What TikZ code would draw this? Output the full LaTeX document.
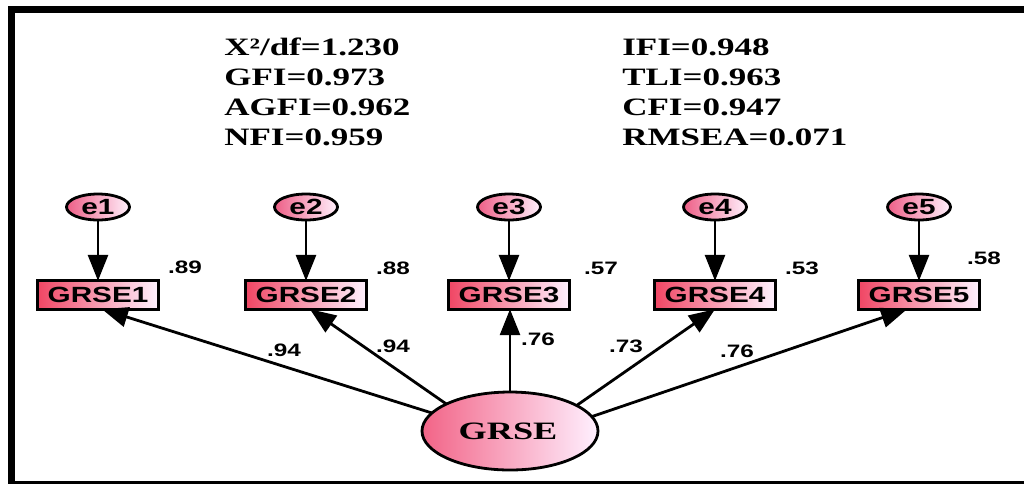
\documentclass[tikz,border=0pt]{standalone}
\usepackage{fontspec}
\setmainfont{Liberation Serif}
\newfontfamily\arialfont{Liberation Sans}
\usetikzlibrary{shapes.geometric,arrows.meta,calc}
\definecolor{boxL}{RGB}{240,70,100}
\definecolor{boxR}{RGB}{255,242,255}
\definecolor{errL}{RGB}{238,95,135}
\definecolor{errR}{RGB}{255,240,252}
\definecolor{latL}{RGB}{242,100,135}
\definecolor{latR}{RGB}{255,240,255}
\tikzset{
  wide/.style={xscale=1.35},
  fitline/.style={xscale=1.4, anchor=west, font=\fontsize{25}{30}\selectfont\bfseries, align=left, inner sep=0pt},
  obsbox/.style={rectangle, minimum width=120pt, minimum height=28pt, inner sep=0pt},
  obstext/.style={wide, font=\arialfont\bfseries\fontsize{22}{24}\selectfont},
  errnode/.style={ellipse, minimum width=63pt, minimum height=26pt, inner sep=0pt},
  latnode/.style={ellipse, minimum width=176pt, minimum height=78pt, inner sep=0pt},
  coef/.style={wide, font=\arialfont\bfseries\fontsize{18}{20}\selectfont, inner sep=0pt},
  arr/.style={draw=black, line width=2.8pt, -{Triangle[length=26pt,width=20pt]}},
  outline/.style={draw=black, line width=2.8pt},
}
\begin{document}
\begin{tikzpicture}[x=1pt,y=-1pt]
\useasboundingbox (0,0) rectangle (1024,483);
\clip (0,0) rectangle (1024,483);
\fill[white] (0,0) rectangle (1024,483);
% outer frame
\draw[line width=7pt] (11,9) rectangle (1040,484.5);

% fit indices
\node[fitline] (fitA) at (224,47) {X²/df=1.230};
\node[fitline] (fitB) at (224,77) {GFI=0.973};
\node[fitline] (fitC) at (224,107) {AGFI=0.962};
\node[fitline] (fitD) at (224,137) {NFI=0.959};
\node[fitline] (fitE) at (622,47) {IFI=0.948};
\node[fitline] (fitF) at (622,77) {TLI=0.963};
\node[fitline] (fitG) at (622,107) {CFI=0.947};
\node[fitline] (fitH) at (622,137) {RMSEA=0.071};

% error terms and observed indicators: shaded body, then a black outline
\foreach \i/\x in {1/98,2/306,3/509,4/715,5/919}{
  \node[errnode] (e\i) at (\x,207) {};
  \shade[left color=errL, right color=errR] (e\i.center) ellipse [x radius=31.5pt, y radius=13pt];
  \draw[outline] (e\i.center) ellipse [x radius=31.5pt, y radius=13pt];
  \node[obstext] (et\i) at (\x,207) {e\i};
  \node[obsbox] (G\i) at (\x,295) {};
  \shade[left color=boxL, right color=boxR] (G\i.south west) rectangle (G\i.north east);
  \draw[outline] (G\i.south west) rectangle (G\i.north east);
  \node[obstext] (Gt\i) at (\x,295) {GRSE\i};
}
% latent factor
\node[latnode] (L) at (510,431) {};
\shade[left color=latL, right color=latR] (L.center) ellipse [x radius=88pt, y radius=39pt];
\draw[outline] (L.center) ellipse [x radius=88pt, y radius=39pt];
\node[xscale=1.45, font=\fontsize{25}{27}\selectfont\bfseries] (Lt) at (508,431) {GRSE};

% error paths
\foreach \i in {1,...,5}{ \draw[arr] (e\i) -- (G\i); }
% loadings
\draw[arr] (L.167) -- ($(G1.south)+(4,0)$);
\draw[arr] (L.157) -- ($(G2.south)+(4,0)$);
\draw[arr] (L.north) -- (G3.south -| L.north);
\draw[arr] (L.21) -- (G4.south);
\draw[arr] (L.10) -- ($(G5.south)+(-12,0)$);

% squared multiple correlations
\node[coef] (r1) at (185,267) {.89};
\node[coef] (r2) at (393,268) {.88};
\node[coef] (r3) at (601,268) {.57};
\node[coef] (r4) at (802,268) {.53};
\node[coef] (r5) at (984,258) {.58};
% standardized loadings
\node[coef] (l1) at (284,350) {.94};
\node[coef] (l2) at (393,346) {.94};
\node[coef] (l3) at (538,339) {.76};
\node[coef] (l4) at (626,346) {.73};
\node[coef] (l5) at (737,351) {.76};
\end{tikzpicture}
\end{document}
